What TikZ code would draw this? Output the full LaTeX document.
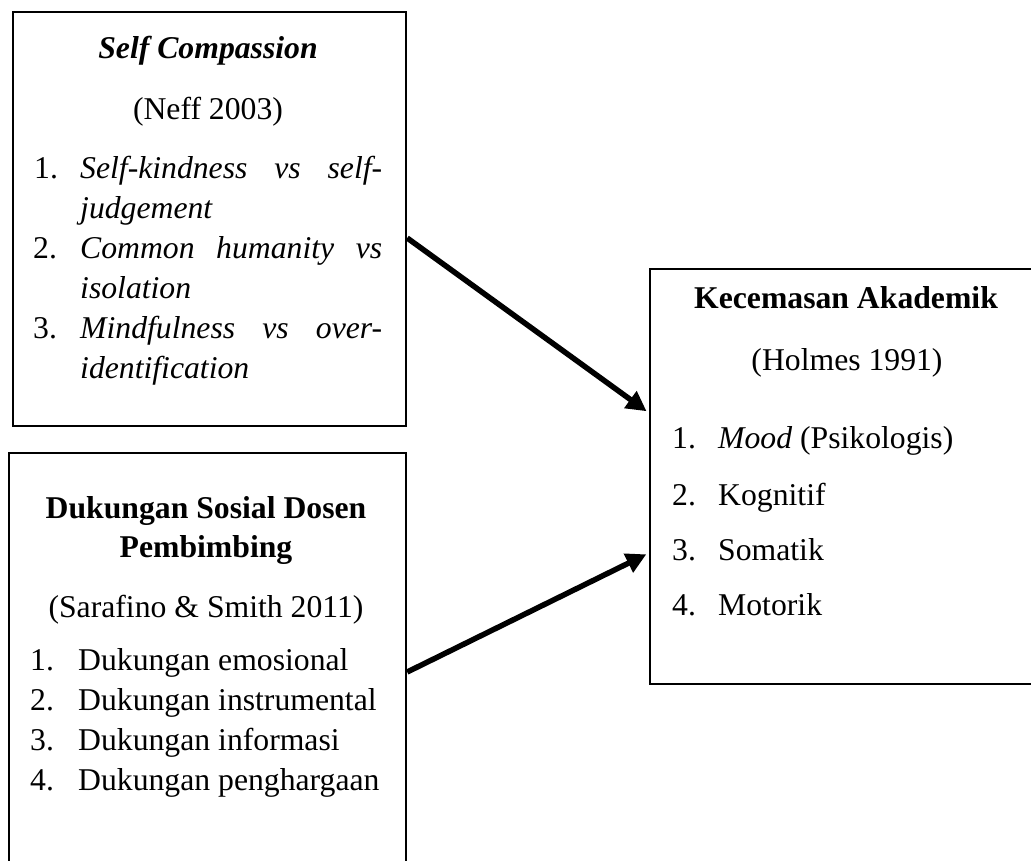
\documentclass[tikz,border=0pt]{standalone}
\usepackage{fontspec}
\setmainfont{Liberation Serif}
\usetikzlibrary{arrows.meta}
\tikzset{
  box/.style={draw, line width=2.2pt, rectangle, anchor=north west, inner sep=0pt},
  txt/.style={anchor=base west, inner sep=0pt, font=\fontsize{31.7}{38}\selectfont},
  ctxt/.style={anchor=base, inner sep=0pt, font=\fontsize{31.7}{38}\selectfont},
  arr/.style={line width=5.5pt, -{Triangle[length=20pt,width=20pt]}, shorten >=3pt}
}
\begin{document}
\begin{tikzpicture}[x=1pt,y=-1pt]
\useasboundingbox[fill=white] (0,0) rectangle (1031,860);
% boxes
\node[box, minimum width=393pt, minimum height=414pt] (b1) at (12,11) {};
\node[box, minimum width=397pt, minimum height=440pt] (b2) at (8,452) {};
\node[box, minimum width=400pt, minimum height=415pt] (b3) at (649,268) {};
% box 1 text
\node[ctxt] (b1t) at (208,58) {\bfseries\itshape Self Compassion};
\node[ctxt] (b1r) at (208,119) {(Neff 2003)};
\node[txt] (b1n1) at (34,178) {1.};
\node[txt] (b1i1) at (80,178) {\makebox[302pt][s]{\itshape Self-kindness vs self-}};
\node[txt] (b1i1b) at (80,218) {\itshape judgement};
\node[txt] (b1n2) at (33,258) {2.};
\node[txt] (b1i2) at (80,258) {\makebox[302pt][s]{\itshape Common humanity vs}};
\node[txt] (b1i2b) at (80,298) {\itshape isolation};
\node[txt] (b1n3) at (33,338) {3.};
\node[txt] (b1i3) at (80,338) {\makebox[302pt][s]{\itshape Mindfulness vs over-}};
\node[txt] (b1i3b) at (80,378) {\itshape identification};
% box 2 text
\node[ctxt] (b2t) at (206,518) {\bfseries Dukungan Sosial Dosen};
\node[ctxt] (b2t2) at (206,557) {\bfseries Pembimbing};
\node[ctxt] (b2r) at (206,617) {(Sarafino \& Smith 2011)};
\node[txt] (b2n1) at (30,670) {1.};
\node[txt] (b2i1) at (78,670) {Dukungan emosional};
\node[txt] (b2n2) at (30,710) {2.};
\node[txt] (b2i2) at (78,710) {Dukungan instrumental};
\node[txt] (b2n3) at (30,750) {3.};
\node[txt] (b2i3) at (78,750) {Dukungan informasi};
\node[txt] (b2n4) at (30,790) {4.};
\node[txt] (b2i4) at (78,790) {Dukungan penghargaan};
% box 3 text
\node[ctxt] (b3t) at (846,308) {\bfseries Kecemasan Akademik};
\node[ctxt] (b3r) at (847,370) {(Holmes 1991)};
\node[txt] (b3n1) at (672,448) {1.};
\node[txt] (b3i1) at (718,448) {\itshape Mood\upshape\ (Psikologis)};
\node[txt] (b3n2) at (672,505) {2.};
\node[txt] (b3i2) at (718,505) {Kognitif};
\node[txt] (b3n3) at (672,560) {3.};
\node[txt] (b3i3) at (718,560) {Somatik};
\node[txt] (b3n4) at (672,615) {4.};
\node[txt] (b3i4) at (718,615) {Motorik};
% arrows
\draw[arr] ([yshift=-227pt]b1.north east) -- ([yshift=-145pt]b3.north west);
\draw[arr] ([yshift=-220pt]b2.north east) -- ([yshift=-285pt]b3.north west);
\end{tikzpicture}
\end{document}
